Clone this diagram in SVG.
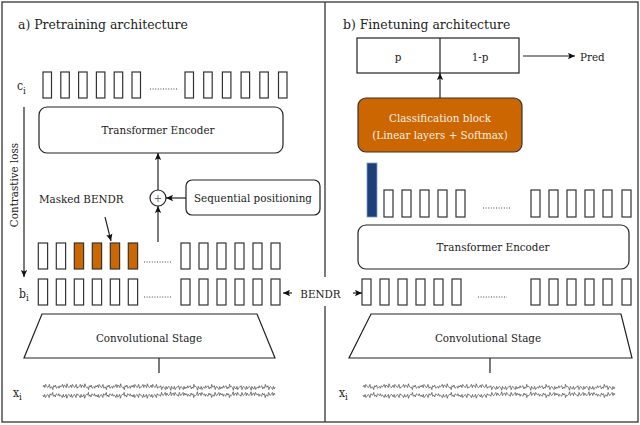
<svg xmlns="http://www.w3.org/2000/svg" xmlns:xlink="http://www.w3.org/1999/xlink" width="640" height="425" viewBox="0 0 640 425" font-family="'DejaVu Serif Condensed', 'DejaVu Serif', serif">
<style>
  text { font-family: 'DejaVu Serif Condensed', 'DejaVu Serif', serif; font-stretch: condensed; fill: #222; }
  .title { font-size: 13.8px; }
  .lbl { font-size: 11.5px; }
  .cell { fill: #fff; stroke: #333; stroke-width: 1.2; }
  .mask { fill: #cc6600; stroke: #333; stroke-width: 1.2; }
  .blk { fill: #fff; stroke: #222; stroke-width: 1.2; }
  .frame { fill: none; stroke: #444; stroke-width: 1.4; }
  .conn { fill: none; stroke: #222; stroke-width: 1.2; }
  .dots { stroke: #444; stroke-width: 1; stroke-dasharray: 1 1.6; }
  .eeg { fill: none; stroke: #333; stroke-width: 0.6; }
</style>
<defs>
  <marker id="ah" viewBox="0 0 10 10" refX="10" refY="5" markerWidth="7" markerHeight="7" markerUnits="userSpaceOnUse" orient="auto">
    <path d="M0,0.5 L10,5 L0,9.5 L2,5 z" fill="#111"/>
  </marker>
  <path id="noise" vector-effect="non-scaling-stroke" d="M0,0 l2,-1.5 2,2 1.5,-2.5 2,1 2.5,1.5 1.5,-0.5 2,-2 2,3 1.5,-1 2,0 l2,2 1.5,-3 2,1 2,-1.5 2,2.5 1.5,-0.5 2.5,-1 1.5,1.5 2,-2 2,1 l1.5,-0.5 2,-1.5 2,2.5 1.5,-2 2.5,0.5 2,1.5 1.5,-3 2,2 2,1 2,-0.5 l2,-1.5 2,2 1.5,-2.5 2,1 2.5,1.5 1.5,-0.5 2,-2 2,3 1.5,-1 2,0 l1.5,-0.5 2,-1.5 2,2.5 1.5,-2 2.5,0.5 2,1.5 1.5,-3 2,2 2,1 2,-0.5 l2,2 1.5,-3 2,1 2,-1.5 2,2.5 1.5,-0.5 2.5,-1 1.5,1.5 2,-2 2,1 l2,-1.5 2,2 1.5,-2.5 2,1 2.5,1.5 1.5,-0.5 2,-2 2,3 1.5,-1 2,0 l2,2 1.5,-3 2,1 2,-1.5 2,2.5 1.5,-0.5 2.5,-1 1.5,1.5 2,-2 2,1 l1.5,-0.5 2,-1.5 2,2.5 1.5,-2 2.5,0.5 2,1.5 1.5,-3 2,2 2,1 2,-0.5 l2,2 1.5,-3 2,1 2,-1.5 2,2.5 1.5,-0.5 2.5,-1 1.5,1.5 2,-2 2,1 l2,-1.5 2,2 1.5,-2.5 2,1 2.5,1.5 1.5,-0.5 2,-2 2,3 1.5,-1 2,0 l1.5,-0.5 2,-1.5 2,2.5 1.5,-2 2.5,0.5 2,1.5 1.5,-3 2,2 2,1 2,-0.5 l2,-1.5 2,2 1.5,-2.5 2,1 2.5,1.5 1.5,-0.5 2,-2 2,3 1.5,-1 2,0"/>
  <g id="noiseRow">
    <use xlink:href="#noise" transform="scale(0.5,1)"/>
    <use xlink:href="#noise" transform="translate(247,0) scale(-0.5,-1)"/>
  </g>
</defs>
<rect x="0" y="0" width="640" height="425" fill="#fff"/>

<g id="frame">
  <rect class="frame" x="2" y="2" width="636" height="420"/>
  <line class="frame" x1="325" y1="2" x2="325" y2="277"/>
  <line class="frame" x1="325" y1="306" x2="325" y2="422"/>
</g>

<g id="titles">
  <text class="title" x="18" y="29">a) Pretraining architecture</text>
  <text class="title" x="343" y="29">b) Finetuning architecture</text>
</g>

<g id="c-row">
  <text x="17" y="90" font-size="12">c<tspan font-size="9.5" dy="4">i</tspan></text>
  <rect class="cell" x="43" y="72" width="8.5" height="26"/>
  <rect class="cell" x="60.8" y="72" width="8.5" height="26"/>
  <rect class="cell" x="78.6" y="72" width="8.5" height="26"/>
  <rect class="cell" x="96.4" y="72" width="8.5" height="26"/>
  <rect class="cell" x="114.2" y="72" width="8.5" height="26"/>
  <rect class="cell" x="132" y="72" width="8.5" height="26"/>
  <line class="dots" x1="150" y1="89" x2="177" y2="89"/>
  <rect class="cell" x="185" y="72" width="8.5" height="26"/>
  <rect class="cell" x="203.7" y="72" width="8.5" height="26"/>
  <rect class="cell" x="222.4" y="72" width="8.5" height="26"/>
  <rect class="cell" x="241.1" y="72" width="8.5" height="26"/>
  <rect class="cell" x="259.8" y="72" width="8.5" height="26"/>
  <rect class="cell" x="278.5" y="72" width="8.5" height="26"/>
</g>

<g id="transformer-a">
  <rect class="blk" x="39" y="107" width="244" height="46" rx="8"/>
  <text class="lbl" x="158" y="134" text-anchor="middle">Transformer Encoder</text>
</g>

<g id="contrastive-label">
  <text class="lbl" transform="translate(17.5,185) rotate(-90)" text-anchor="middle" font-size="12">Contrastive loss</text>
</g>

<g id="plus">
  <circle cx="158" cy="198" r="8" fill="#fff" stroke="#222" stroke-width="1.2"/>
  <text x="158" y="202" text-anchor="middle" font-size="11" style="fill:#666">+</text>
</g>

<g id="seq-pos">
  <rect class="blk" x="186" y="180" width="134" height="35" rx="6"/>
  <text class="lbl" x="253" y="202" text-anchor="middle">Sequential positioning</text>
</g>

<g id="masked-label">
  <text class="lbl" x="39" y="203">Masked BENDR</text>
</g>

<g id="masked-row">
  <rect class="cell" x="38.3" y="243" width="9.3" height="26"/>
  <rect class="cell" x="56.3" y="243" width="9.3" height="26"/>
  <rect class="mask" x="74.3" y="243" width="9.3" height="26"/>
  <rect class="mask" x="92.3" y="243" width="9.3" height="26"/>
  <rect class="mask" x="110.3" y="243" width="9.3" height="26"/>
  <rect class="mask" x="128.3" y="243" width="9.3" height="26"/>
  <line class="dots" x1="144" y1="262" x2="172" y2="262"/>
  <rect class="cell" x="181" y="243" width="9" height="26"/>
  <rect class="cell" x="199" y="243" width="9" height="26"/>
  <rect class="cell" x="217" y="243" width="9" height="26"/>
  <rect class="cell" x="235" y="243" width="9" height="26"/>
  <rect class="cell" x="253" y="243" width="9" height="26"/>
  <rect class="cell" x="271" y="243" width="9" height="26"/>
</g>

<g id="b-row-a">
  <text x="19" y="298" font-size="12">b<tspan font-size="9.5" dy="3">i</tspan></text>
  <rect class="cell" x="38.3" y="279" width="9.3" height="26"/>
  <rect class="cell" x="56.3" y="279" width="9.3" height="26"/>
  <rect class="cell" x="74.3" y="279" width="9.3" height="26"/>
  <rect class="cell" x="92.3" y="279" width="9.3" height="26"/>
  <rect class="cell" x="110.3" y="279" width="9.3" height="26"/>
  <rect class="cell" x="128.3" y="279" width="9.3" height="26"/>
  <line class="dots" x1="144" y1="297" x2="172" y2="297"/>
  <rect class="cell" x="181" y="279" width="9" height="26"/>
  <rect class="cell" x="199" y="279" width="9" height="26"/>
  <rect class="cell" x="217" y="279" width="9" height="26"/>
  <rect class="cell" x="235" y="279" width="9" height="26"/>
  <rect class="cell" x="253" y="279" width="9" height="26"/>
  <rect class="cell" x="271" y="279" width="9" height="26"/>
</g>

<g id="bendr-label">
  <text class="lbl" x="320.5" y="298" text-anchor="middle">BENDR</text>
</g>

<g id="conv-a">
  <polygon class="blk" points="42,314 257,314 275,358 24,358"/>
  <text class="lbl" x="149" y="342" text-anchor="middle">Convolutional Stage</text>
</g>

<g id="eeg-a">
  <text x="13" y="397" font-size="12">x<tspan font-size="9.5" dy="3">i</tspan></text>
  <use xlink:href="#noiseRow" class="eeg" transform="translate(43,387) scale(0.94,1.3)"/>
  <use xlink:href="#noiseRow" class="eeg" transform="translate(275,395) scale(-0.94,1.3)"/>
</g>

<g id="output-box">
  <rect class="blk" x="357" y="38" width="162" height="35"/>
  <line class="conn" x1="440" y1="38" x2="440" y2="73"/>
  <text class="lbl" x="398" y="61" text-anchor="middle">p</text>
  <text class="lbl" x="480" y="61" text-anchor="middle">1-p</text>
</g>

<g id="pred-label">
  <text class="lbl" x="580" y="61">Pred</text>
</g>

<g id="classification">
  <rect x="358" y="98" width="164" height="54" rx="8" fill="#cc6600" stroke="#333" stroke-width="1.2"/>
  <text class="lbl" x="440" y="122" text-anchor="middle" style="fill:#f6efe6">Classification block</text>
  <text class="lbl" x="440" y="139" text-anchor="middle" style="fill:#f6efe6">(Linear layers + Softmax)</text>
</g>

<g id="cls-row">
  <rect x="367" y="163" width="10" height="54" fill="#1f3f7a" stroke="#7f9fd0" stroke-width="0.8"/>
  <rect class="cell" x="384" y="190" width="9" height="27"/>
  <rect class="cell" x="402" y="190" width="9" height="27"/>
  <rect class="cell" x="420" y="190" width="9" height="27"/>
  <rect class="cell" x="438" y="190" width="9" height="27"/>
  <rect class="cell" x="456" y="190" width="9" height="27"/>
  <line class="dots" x1="483" y1="208" x2="510" y2="208"/>
  <rect class="cell" x="531" y="190" width="9" height="27"/>
  <rect class="cell" x="549" y="190" width="9" height="27"/>
  <rect class="cell" x="567" y="190" width="9" height="27"/>
  <rect class="cell" x="585" y="190" width="9" height="27"/>
  <rect class="cell" x="603" y="190" width="9" height="27"/>
  <rect class="cell" x="622" y="190" width="9" height="27"/>
</g>

<g id="transformer-b">
  <rect class="blk" x="358" y="225" width="271" height="44" rx="8"/>
  <text class="lbl" x="493" y="251" text-anchor="middle">Transformer Encoder</text>
</g>

<g id="b-row-b">
  <rect class="cell" x="362" y="279" width="9" height="26"/>
  <rect class="cell" x="380" y="279" width="9" height="26"/>
  <rect class="cell" x="398" y="279" width="9" height="26"/>
  <rect class="cell" x="416" y="279" width="9" height="26"/>
  <rect class="cell" x="434" y="279" width="9" height="26"/>
  <rect class="cell" x="452" y="279" width="9" height="26"/>
  <line class="dots" x1="478" y1="297" x2="507" y2="297"/>
  <rect class="cell" x="531" y="279" width="9" height="26"/>
  <rect class="cell" x="549" y="279" width="9" height="26"/>
  <rect class="cell" x="567" y="279" width="9" height="26"/>
  <rect class="cell" x="585" y="279" width="9" height="26"/>
  <rect class="cell" x="603" y="279" width="9" height="26"/>
  <rect class="cell" x="622" y="279" width="9" height="26"/>
</g>

<g id="conv-b">
  <polygon class="blk" points="371,314 621,314 632,358 349,358"/>
  <text class="lbl" x="488" y="342" text-anchor="middle">Convolutional Stage</text>
</g>

<g id="eeg-b">
  <text x="339" y="397" font-size="12">x<tspan font-size="9.5" dy="3">i</tspan></text>
  <use xlink:href="#noiseRow" class="eeg" transform="translate(363,387) scale(1.02,1.3)"/>
  <use xlink:href="#noiseRow" class="eeg" transform="translate(615,395) scale(-1.02,1.3)"/>
</g>

<g id="connectors">
  <line class="conn" x1="24" y1="107" x2="24" y2="277" marker-end="url(#ah)"/>
  <line class="conn" x1="158" y1="190" x2="158" y2="153" marker-end="url(#ah)"/>
  <line class="conn" x1="158" y1="242" x2="158" y2="206" marker-end="url(#ah)"/>
  <line class="conn" x1="186" y1="198" x2="166" y2="198" marker-end="url(#ah)"/>
  <line class="conn" x1="105" y1="217" x2="111" y2="241" marker-end="url(#ah)"/>
  <line class="conn" x1="159" y1="358" x2="159" y2="373"/>
  <line class="conn" x1="490" y1="358" x2="490" y2="373"/>
  <line class="conn" x1="440" y1="98" x2="440" y2="73" marker-end="url(#ah)"/>
  <line class="conn" x1="523" y1="56" x2="575" y2="56" marker-end="url(#ah)"/>
  <line class="conn" x1="292" y1="293" x2="283" y2="293" marker-end="url(#ah)"/>
  <line class="conn" x1="353" y1="293" x2="362" y2="293" marker-end="url(#ah)"/>
</g>
</svg>
